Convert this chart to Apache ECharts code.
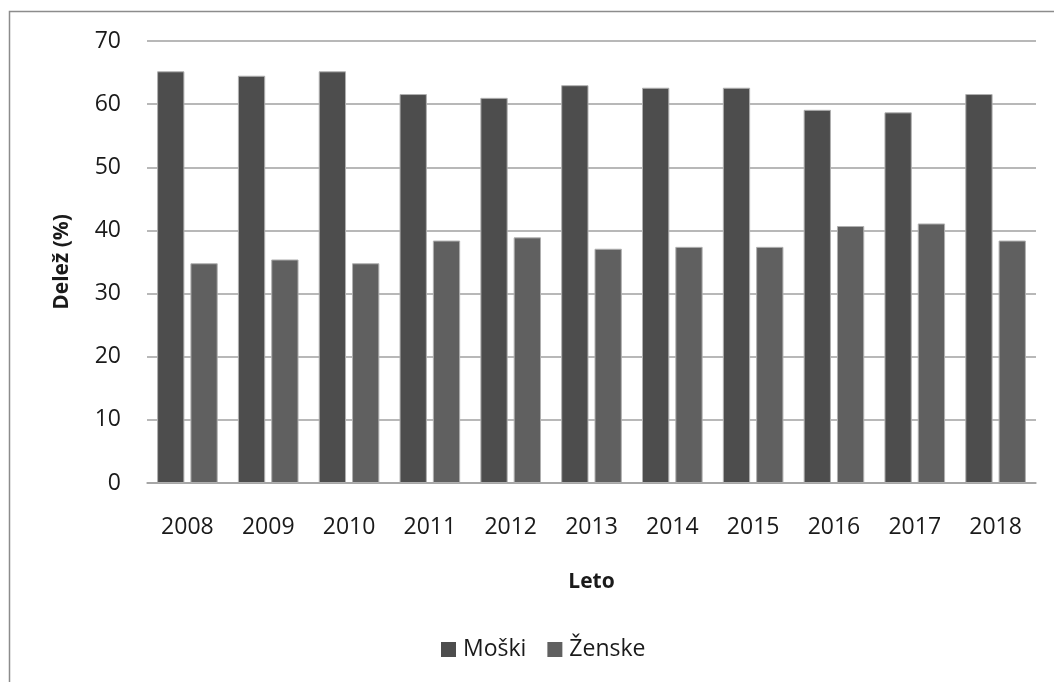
<!DOCTYPE html>
<html>
<head>
<meta charset="utf-8">
<script src="https://cdn.jsdelivr.net/npm/echarts@6/dist/echarts.min.js"></script>
<style>
  html, body { margin: 0; padding: 0; background: #ffffff; }
  #chart { width: 1054px; height: 682px; }
</style>
</head>
<body>
<div id="chart"></div>
<script>
// Years on the category axis
const years = ['2008', '2009', '2010', '2011', '2012', '2013', '2014', '2015', '2016', '2017', '2018'];
// Share (%) by sex
const moski  = [65.2, 64.5, 65.2, 61.6, 61.0, 63.0, 62.6, 62.6, 59.1, 58.7, 61.6];
const zenske = [34.8, 35.4, 34.8, 38.4, 38.9, 37.1, 37.4, 37.4, 40.7, 41.1, 38.4];
const seriesNames = ['Moški', 'Ženske'];

const FONT = '"Open Sans", "Noto Sans", sans-serif';
const TEXT = '#1a1a1a';
const GRID_GRAY = '#a0a0a0';

const chart = echarts.init(document.getElementById('chart'), null, { renderer: 'canvas' });

chart.setOption({
  animation: false,
  backgroundColor: '#ffffff',
  textStyle: { fontFamily: FONT, color: TEXT },
  // outer chart frame
  graphic: [{
    type: 'rect',
    shape: { x: 9.5, y: 11.5, width: 1100, height: 700 },
    style: { fill: 'none', stroke: '#8c8c8c', lineWidth: 1.5 },
    silent: true
  }],
  grid: { left: 147, right: 18, top: 41, bottom: 199, containLabel: false },
  legend: {
    data: seriesNames,
    left: 441,
    top: 638,
    padding: 0,
    itemWidth: 15,
    itemHeight: 15,
    itemGap: 21,
    icon: 'rect',
    itemStyle: { borderWidth: 0 },
    textStyle: { fontFamily: FONT, fontSize: 23, color: TEXT, padding: [0, 0, 0, 2] }
  },
  xAxis: {
    type: 'category',
    data: years,
    name: 'Leto',
    nameLocation: 'middle',
    nameGap: 89,
    nameTextStyle: { fontFamily: FONT, fontSize: 21, fontWeight: 'bold', color: TEXT },
    axisLine: { show: true, lineStyle: { color: GRID_GRAY, width: 1.5 } },
    axisTick: { show: false },
    axisLabel: { margin: 33, fontFamily: FONT, fontSize: 23, color: TEXT }
  },
  yAxis: {
    type: 'value',
    min: 0,
    max: 70,
    interval: 10,
    name: 'Delež (%)',
    nameLocation: 'middle',
    nameRotate: 90,
    nameGap: 74,
    nameTextStyle: { fontFamily: FONT, fontSize: 21, fontWeight: 'bold', color: TEXT },
    axisLine: { show: false },
    axisTick: { show: false },
    axisLabel: { margin: 26, fontFamily: FONT, fontSize: 23, color: TEXT },
    splitLine: { show: true, lineStyle: { color: GRID_GRAY, width: 1.5 } }
  },
  series: [
    {
      name: seriesNames[0],
      type: 'bar',
      data: moski,
      barGap: '22%',
      barCategoryGap: '25%',
      itemStyle: { color: '#4d4d4d', borderColor: '#b0b0b0', borderWidth: 1 }
    },
    {
      name: seriesNames[1],
      type: 'bar',
      data: zenske,
      barGap: '22%',
      barCategoryGap: '25%',
      itemStyle: { color: '#606060', borderColor: '#b0b0b0', borderWidth: 1 }
    }
  ]
});
</script>
</body>
</html>
